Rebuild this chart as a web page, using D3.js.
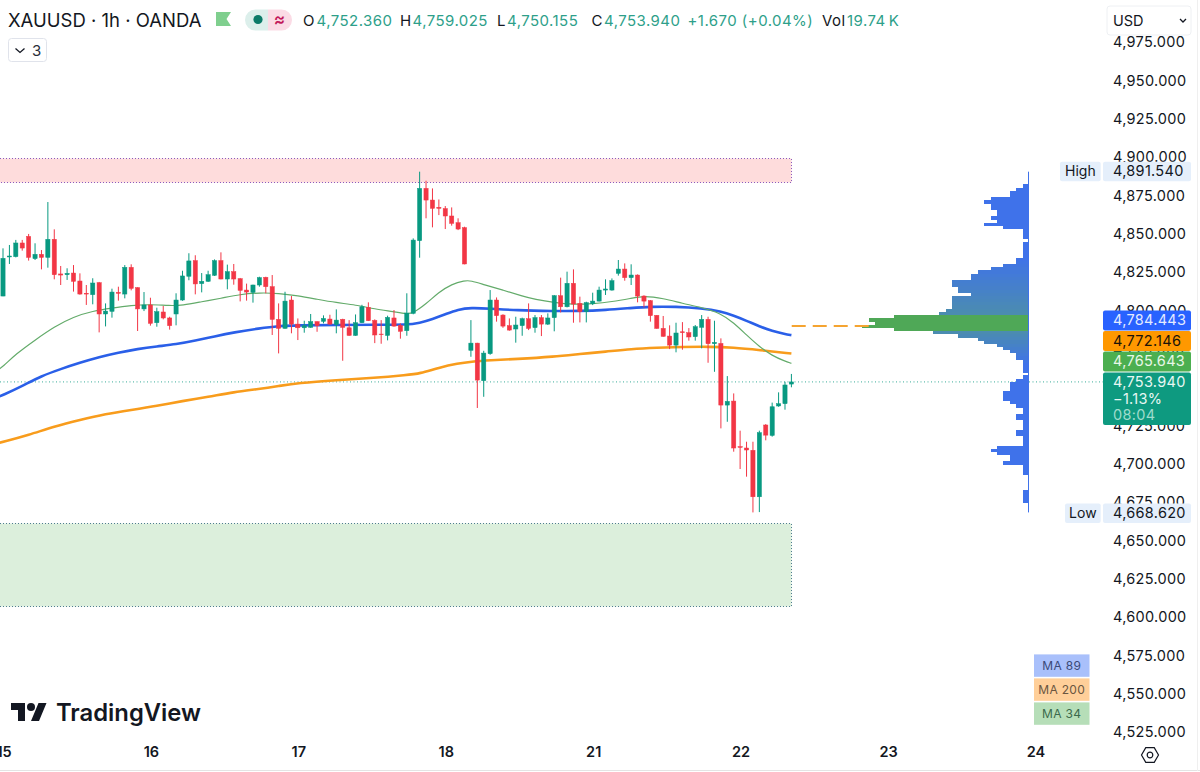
<!DOCTYPE html>
<html>
<head>
<meta charset="utf-8">
<script src="https://cdn.jsdelivr.net/npm/d3@7"></script>
<style>
    html, body { margin: 0; padding: 0; background: #fff; }
    svg { display: block; font-family: Inter, "Noto Sans", sans-serif; }
    .tick text { fill: #131722; }
</style>
</head>
<body>
<svg id="chart" width="1200" height="772"></svg>
<script>
// hourly candles
const opens = [
    4809.1,4834.6,4834.8,4843.7,4848.0,4833.5,4836.3,4834.3,4846.1,4823.5,
    4823.0,4824.1,4818.9,4810.9,4810.0,4817.8,4797.4,4799.1,4811.5,4810.4,
    4827.8,4814.6,4800.7,4803.3,4791.7,4798.7,4794.8,4797.4,4806.5,4822.0,
    4832.2,4817.2,4818.7,4822.6,4832.2,4820.2,4825.0,4820.4,4813.0,4811.5,
    4816.3,4821.3,4815.2,4793.9,4788.0,4806.5,4790.8,4788.4,4788.7,4792.4,
    4792.6,4794.1,4790.4,4793.9,4788.4,4783.4,4791.7,4801.7,4793.2,4784.3,
    4783.4,4794.8,4790.0,4786.5,4797.8,4845.2,4879.3,4871.7,4867.0,4866.1,
    4861.3,4856.9,4853.7,4773.7,4778.4,4753.9,4771.5,4806.5,4796.7,4789.8,
    4787.6,4789.8,4794.3,4788.5,4795.0,4790.8,4795.0,4809.3,4802.1,4817.4,
    4804.3,4798.9,4804.1,4805.8,4813.0,4813.0,4823.9,4826.7,4821.1,4822.8,
    4809.1,4806.1,4796.5,4788.0,4783.0,4777.1,4785.8,4785.2,4782.6,4788.7,
    4793.9,4778.0,4778.2,4738.0,4740.6,4710.9,4710.0,4708.5,4678.2,4725.0,
    4718.2,4737.4,4738.9,4751.7
];
const highs = [
    4840.2,4842.4,4845.7,4845.7,4849.6,4843.5,4839.1,4870.4,4852.6,4828.7,
    4827.2,4829.3,4823.9,4816.3,4820.7,4818.3,4804.3,4813.9,4815.2,4829.3,
    4829.8,4814.8,4811.7,4808.0,4801.5,4802.6,4795.6,4810.9,4825.6,4837.0,
    4835.7,4824.1,4825.6,4833.0,4837.6,4829.6,4830.0,4820.9,4817.2,4816.5,
    4821.7,4821.7,4822.8,4804.3,4811.9,4809.1,4794.5,4793.0,4797.4,4792.6,
    4796.5,4796.9,4800.4,4794.3,4793.4,4797.1,4803.4,4805.0,4793.9,4793.4,
    4796.3,4800.0,4791.3,4810.9,4846.7,4890.2,4884.3,4879.3,4872.1,4867.8,
    4866.9,4859.8,4854.3,4793.4,4778.6,4773.4,4813.0,4808.2,4797.2,4794.5,
    4795.6,4795.0,4804.3,4796.7,4796.7,4797.8,4809.8,4821.1,4825.0,4826.5,
    4808.7,4805.4,4811.3,4815.2,4820.0,4820.6,4832.6,4830.4,4829.8,4823.2,
    4809.6,4806.5,4796.7,4796.1,4790.0,4791.7,4792.1,4788.2,4790.2,4796.7,
    4795.6,4793.0,4781.5,4756.9,4745.6,4721.3,4714.1,4714.1,4721.3,4725.6,
    4739.6,4746.3,4753.2,4758.3
];
const lows = [
    4809.0,4830.0,4834.3,4838.7,4832.2,4832.6,4826.5,4827.6,4820.0,4816.3,
    4819.6,4812.0,4810.0,4803.3,4803.7,4785.4,4789.3,4795.0,4806.1,4807.6,
    4812.8,4786.3,4799.3,4789.8,4789.1,4793.9,4787.2,4790.0,4806.0,4819.4,
    4810.2,4811.5,4818.3,4822.2,4820.0,4813.5,4816.5,4805.6,4806.1,4804.8,
    4815.2,4810.9,4783.7,4771.7,4787.8,4784.8,4780.4,4785.2,4788.4,4785.8,
    4791.3,4790.4,4784.8,4766.9,4783.2,4783.2,4791.5,4792.8,4778.4,4778.0,
    4780.2,4789.1,4781.3,4783.2,4797.2,4834.1,4859.8,4853.9,4861.9,4852.8,
    4855.0,4852.1,4829.8,4769.5,4736.1,4743.4,4770.8,4792.4,4788.4,4786.5,
    4778.7,4783.2,4786.9,4785.2,4783.0,4790.2,4786.1,4798.4,4801.7,4791.7,
    4791.9,4791.9,4803.2,4805.6,4809.8,4812.6,4822.4,4819.1,4816.3,4805.0,
    4801.7,4792.4,4787.8,4782.6,4774.5,4772.4,4774.1,4780.0,4780.0,4775.0,
    4765.6,4759.7,4722.8,4727.1,4707.6,4696.3,4691.3,4668.0,4668.2,4715.0,
    4717.4,4736.9,4735.0,4749.6
];
const closes = [
    4833.7,4835.2,4843.7,4840.4,4834.3,4836.3,4834.3,4846.1,4823.0,4822.8,
    4823.9,4818.7,4810.4,4810.4,4817.6,4797.4,4799.3,4811.7,4810.9,4827.8,
    4814.1,4800.7,4803.3,4791.3,4798.9,4794.8,4789.8,4806.5,4822.2,4832.0,
    4817.0,4818.7,4823.0,4832.2,4820.2,4825.0,4820.2,4812.8,4811.7,4816.3,
    4821.1,4815.2,4793.9,4788.0,4805.8,4790.8,4788.4,4789.8,4792.4,4789.8,
    4794.5,4790.8,4793.4,4788.7,4783.4,4791.7,4802.1,4793.0,4783.7,4783.9,
    4795.2,4789.5,4786.1,4798.0,4845.6,4879.3,4871.7,4866.3,4866.3,4861.3,
    4856.5,4852.8,4830.0,4778.4,4754.3,4771.9,4806.5,4796.3,4789.5,4786.9,
    4790.2,4794.3,4788.0,4795.0,4790.8,4794.8,4809.3,4802.1,4817.4,4803.9,
    4798.9,4804.8,4805.8,4813.0,4813.7,4819.1,4826.7,4821.1,4822.8,4809.1,
    4805.8,4796.3,4788.0,4782.8,4777.1,4785.0,4785.2,4782.4,4789.1,4793.9,
    4778.0,4778.9,4738.0,4740.4,4710.0,4710.4,4708.7,4678.2,4720.0,4718.4,
    4736.9,4738.9,4751.1,4753.1
];

// moving averages, knots as [candle index, price]
const ma34 = [[-1,4760.5],[0,4763.0],[2,4771.3],[5,4780.4],[8,4789.1],[11,4795.6],[14,4799.3],[17,4801.3],[20,4803.0],[23,4803.7],[26,4802.8],[28,4803.0],[31,4805.4],[34,4807.6],[37,4810.2],[40,4811.3],[43,4810.9],[46,4809.3],[49,4807.0],[52,4804.8],[55,4803.3],[58,4800.7],[61,4798.9],[63,4797.4],[64,4798.0],[66,4803.9],[68,4811.6],[70,4816.9],[72,4819.2],[73,4819.2],[75,4816.6],[78,4813.0],[81,4809.1],[83,4806.9],[86,4804.8],[89,4803.5],[92,4804.1],[95,4805.4],[98,4807.6],[100,4809.2],[103,4807.6],[106,4804.3],[109,4801.7],[112,4797.8],[114,4791.7],[116,4783.7],[118,4776.1],[120,4770.2],[122,4766.6],[123,4765.2]];
const ma89 = [[-1,4743.0],[0,4744.5],[3,4750.4],[6,4757.0],[9,4761.5],[12,4765.6],[15,4769.3],[18,4772.2],[21,4774.6],[24,4776.3],[27,4777.6],[30,4780.0],[33,4782.8],[36,4785.4],[40,4788.0],[43,4789.6],[46,4790.0],[52,4790.2],[58,4790.4],[63,4790.4],[65,4791.5],[67,4794.1],[69,4797.2],[71,4800.4],[73,4801.5],[76,4800.9],[80,4799.8],[86,4799.3],[90,4799.3],[94,4800.0],[98,4801.3],[101,4802.2],[105,4802.2],[109,4801.1],[112,4799.1],[114,4796.3],[116,4793.0],[118,4789.3],[120,4786.3],[122,4784.3],[123,4783.6]];
const ma200 = [[-1,4713.0],[0,4714.0],[4,4718.5],[8,4724.0],[12,4728.3],[16,4732.2],[20,4734.8],[24,4737.4],[28,4740.7],[32,4743.3],[36,4746.5],[40,4748.5],[43,4750.4],[46,4752.4],[52,4754.3],[58,4755.7],[63,4757.6],[65,4758.5],[68,4762.4],[71,4765.2],[73,4766.3],[76,4767.2],[80,4768.0],[86,4769.6],[90,4771.3],[94,4772.8],[98,4774.6],[102,4775.4],[106,4775.9],[110,4776.1],[114,4775.6],[118,4773.9],[123,4771.6]];

// volume profile rows from the high down, in row-width units
const profileRows = [
    0,0,0,0,1,2,3,3,6,7, 6,6,5,5,6,5,7,4,1,1,
    1,0,1,1,1,1,1,2,2,4, 6,8,9,9,12,12,11,11,9,12,
    12,12,12,13,14,21,25,24,26,21, 15,11,8,7,5,4,3,2,2,1,
    1,1,1,0,1,2,3,3,3,4, 4,4,3,2,1,1,2,2,1,1,
    1,2,2,1,1,1,5,6,5,3, 3,4,1,1,1,0,0,0,0,0,
    1,1,1,1,0,0,0
];
const profileTop = 4890.2;
const profileBottom = 4668.0;
const profileVah = 4789.6;

const zoneTops = [4898.5, 4660.9];
const zoneBottoms = [4883.0, 4606.5];
const zoneFills = ["#fedcdc", "#dcefdc"];
const zoneEdges = ["#8c5bbd", "#4f7d8f"];

const priceTicks = d3.range(4525, 4976, 25);
const dayIndex = [0, 23, 46, 69, 92, 115, 138, 161];
const dayLabels = ["15", "16", "17", "18", "21", "22", "23", "24"];

const maNames = ["MA 89", "MA 200", "MA 34"];
const maFills = ["#a9c0fb", "#ffcf99", "#b6deb8"];
const maInks = ["#3b4a78", "#6a5640", "#3b6a4c"];

const GREEN = "#089981", RED = "#f23645";
const LABEL_SIZE = 14.5, LABEL_SPACING = 0.3;

const svg = d3.select("#chart");
const W = 1200, H = 772;
const x = d3.scaleLinear().domain([0, 123]).range([3, 791.4]);
const y = d3.scaleLinear().domain([4800, 4525]).range([310, 731.7]);
const lastIdx = opens.length - 1;
const boxEnd = lastIdx + 0.05;

svg.append("rect").attr("width", W).attr("height", H).attr("fill", "#fff");

// zones
zoneTops.forEach((top, i) => {
    const g = svg.append("g");
    const t = Math.floor(y(top)) + 0.5, b = Math.floor(y(zoneBottoms[i])) + 0.5, r = Math.floor(x(boxEnd)) + 0.5;
    g.append("rect").attr("x", 0).attr("width", r).attr("y", t).attr("height", b - t).attr("fill", zoneFills[i]);
    g.append("path").attr("d", d3.line()([[0, t], [r, t], [r, b], [0, b]])).attr("fill", "none")
        .attr("stroke", zoneEdges[i]).attr("stroke-width", 1).attr("stroke-dasharray", "1 2");
});

// last price line
svg.append("line")
    .attr("x1", 0).attr("x2", 1103)
    .attr("y1", y(closes[lastIdx])).attr("y2", y(closes[lastIdx]))
    .attr("stroke", GREEN).attr("stroke-width", 1).attr("stroke-dasharray", "1 2.5").attr("opacity", 0.8);

// volume profile
const rowStep = (profileTop - profileBottom) / profileRows.length;
const volX = d3.scaleLinear().domain([0, 26]).range([1029, 862.3]);
const rowColor = d3.scaleLinear()
    .domain([26, 44, 44.5, 49.5, 50, 60])
    .range(["#3f72ea", "#4b8cb0", "#4fa857", "#4fa857", "#4b8cb0", "#3f72ea"])
    .clamp(true);

svg.append("g").selectAll("rect").data(profileRows).join("rect")
    .attr("x", d => volX(d))
    .attr("width", d => 1029 - volX(d))
    .attr("y", (d, i) => y(profileTop - i * rowStep))
    .attr("height", rowStep * (y(0) - y(1)) + 0.3)
    .attr("fill", (d, i) => rowColor(i))
    .attr("shape-rendering", "crispEdges");

svg.append("line")
    .attr("x1", 1028.5).attr("x2", 1028.5)
    .attr("y1", y(profileTop)).attr("y2", y(profileBottom))
    .attr("stroke", "#3f72ea").attr("stroke-width", 1);

svg.append("line")
    .attr("x1", x(boxEnd)).attr("x2", x(135.2))
    .attr("y1", y(profileVah)).attr("y2", y(profileVah))
    .attr("stroke", "#f5a431").attr("stroke-width", 2).attr("stroke-dasharray", "14 7");

// moving averages
const maLine = d3.line().x(d => x(d[0])).y(d => y(d[1])).curve(d3.curveBasis);
svg.append("path").datum(ma200).attr("d", maLine).attr("fill", "none").attr("stroke", "#f89c1c").attr("stroke-width", 2.6);
svg.append("path").datum(ma89).attr("d", maLine).attr("fill", "none").attr("stroke", "#2a5fe8").attr("stroke-width", 2.6);
svg.append("path").datum(ma34).attr("d", maLine).attr("fill", "none").attr("stroke", "#63ab6a").attr("stroke-width", 1.2);

// candles
const candles = svg.append("g").selectAll("g").data(d3.range(opens.length)).join("g")
    .attr("fill", i => closes[i] >= opens[i] ? GREEN : RED)
    .attr("stroke", i => closes[i] >= opens[i] ? GREEN : RED);
candles.append("line")
    .attr("x1", i => x(i)).attr("x2", i => x(i))
    .attr("y1", i => y(highs[i])).attr("y2", i => y(lows[i]))
    .attr("stroke-width", 1);
candles.append("rect")
    .attr("x", i => x(i) - 2.1).attr("width", 4.2)
    .attr("y", i => y(Math.max(opens[i], closes[i])))
    .attr("height", i => Math.max(0.6, Math.abs(y(opens[i]) - y(closes[i]))))
    .attr("stroke-width", 0.5);

// price axis
const yAxis = d3.axisRight(y).tickValues(priceTicks).tickSize(0).tickPadding(0).tickFormat(d3.format(",.3f"));
svg.append("g").attr("transform", "translate(1113,0.5)").call(yAxis)
    .attr("font-family", null)
    .call(g => g.select(".domain").remove())
    .selectAll("text").attr("font-size", LABEL_SIZE).attr("letter-spacing", LABEL_SPACING);

// time axis
const xAxis = d3.axisBottom(x).tickValues(dayIndex).tickSize(0).tickPadding(0).tickFormat((d, i) => dayLabels[i]);
svg.append("g").attr("transform", "translate(0.5,747)").call(xAxis)
    .attr("font-family", null)
    .call(g => g.select(".domain").remove())
    .selectAll("text").attr("font-size", 14.5).attr("font-weight", 600);

// price labels on the scale
function tag(yTop, h, fill, lines) {
    svg.append("rect").attr("x", 1103).attr("y", yTop).attr("width", 88).attr("height", h).attr("rx", 2).attr("fill", fill);
    lines.forEach(l => {
        svg.append("text").attr("x", 1113).attr("y", yTop + l.dy)
            .attr("font-size", LABEL_SIZE).attr("letter-spacing", LABEL_SPACING).attr("fill", l.ink).text(l.text);
    });
}
const tagTop = y(closes[lastIdx]) - 9.5;
tag(tagTop, 52.7, "#0e9a80", [
    { text: "4,753.940", dy: 14.5, ink: "#e8f7f3" },
    { text: "\u22121.13%", dy: 31.5, ink: "#e8f7f3" },
    { text: "08:04", dy: 48, ink: "#9fdccd" }
]);
tag(tagTop - 20.8, 20, "#4caf50", [{ text: "4,765.643", dy: 14.8, ink: "#e8f7e8" }]);
tag(tagTop - 41.3, 20, "#ff9800", [{ text: "4,772.146", dy: 14.8, ink: "#1c1408" }]);
tag(tagTop - 61.8, 20, "#2962ff", [{ text: "4,784.443", dy: 14.8, ink: "#e4ebff" }]);

function sideTag(price, name, nameX) {
    const top = y(price) - 8;
    svg.append("rect").attr("x", nameX).attr("y", top).attr("width", 1100.7 - nameX).attr("height", 19.5).attr("rx", 2).attr("fill", "#e5effb");
    svg.append("rect").attr("x", 1103).attr("y", top).attr("width", 88).attr("height", 19.5).attr("rx", 2).attr("fill", "#e5effb");
    svg.append("text").attr("x", (nameX + 1100.7) / 2).attr("y", top + 14.8).attr("text-anchor", "middle")
        .attr("font-size", 14).attr("fill", "#131722").text(name);
    svg.append("text").attr("x", 1113).attr("y", top + 14.8).attr("font-size", LABEL_SIZE).attr("letter-spacing", LABEL_SPACING)
        .attr("fill", "#131722").text(d3.format(",.3f")(price));
}
sideTag(4891.54, "High", 1060);
sideTag(4668.62, "Low", 1065);

// MA legend boxes
maNames.forEach((name, i) => {
    const top = 654.4 + i * 24;
    svg.append("rect").attr("x", 1034).attr("y", top).attr("width", 55.5).attr("height", 22.4).attr("fill", maFills[i]);
    svg.append("text").attr("x", 1061.7).attr("y", top + 15.6).attr("text-anchor", "middle")
        .attr("font-size", 12).attr("letter-spacing", 0.3).attr("fill", maInks[i]).text(name);
});

// header
const head = svg.append("g");
head.append("text").attr("x", 8).attr("y", 26.5).attr("font-size", 18.5).attr("fill", "#131722").text("XAUUSD \u00b7 1h \u00b7 OANDA");
head.append("path").attr("d", "M216 12H231L226.5 19L231 26H216Z").attr("fill", "#7fcf8e");

const pill = svg.append("g");
pill.append("path").attr("d", "M268 9.5H255.5A10.5 10.5 0 0 0 255.5 30.5H268Z").attr("fill", "#dcefeb");
pill.append("path").attr("d", "M268 9.5H281.5A10.5 10.5 0 0 1 281.5 30.5H268Z").attr("fill", "#fbdbe5");
pill.append("circle").attr("cx", 258).attr("cy", 19.5).attr("r", 4.6).attr("fill", "#0b7b68");
pill.append("text").attr("x", 279.5).attr("y", 25).attr("text-anchor", "middle").attr("font-size", 17).attr("font-weight", 600).attr("fill", "#c2185b").text("\u2248");

const INK = "#131722", VALUE = "#2e9f8a";
const headerTexts = [
    ["O", 303, INK], ["4,752.360", 316.5, VALUE],
    ["H", 400, INK], ["4,759.025", 412.5, VALUE],
    ["L", 497, INK], ["4,750.155", 507, VALUE],
    ["C", 591.5, INK], ["4,753.940", 604, VALUE],
    ["+1.670 (+0.04%)", 687.5, VALUE],
    ["Vol", 822, INK], ["19.74\u2009K", 847, VALUE]
];
headerTexts.forEach(t => {
    head.append("text").attr("x", t[1]).attr("y", 25.5).attr("font-size", 15).attr("letter-spacing", 0.45).attr("fill", t[2]).text(t[0]);
});

// collapsed indicators button
svg.append("rect").attr("x", 8.5).attr("y", 38.5).attr("width", 38).attr("height", 23).attr("rx", 3)
    .attr("fill", "#fff").attr("stroke", "#e0e3eb");
svg.append("path").attr("d", "M15.5 48.5L20 52.5L24.5 48.5").attr("fill", "none").attr("stroke", INK).attr("stroke-width", 1.3);
svg.append("text").attr("x", 32).attr("y", 55.5).attr("font-size", 15).attr("fill", "#2a2e39").text("3");

// currency select
svg.append("rect").attr("x", 1107).attr("y", 6).attr("width", 84).attr("height", 29).attr("rx", 3)
    .attr("fill", "#fff").attr("stroke", "#eef0f3");
svg.append("text").attr("x", 1113).attr("y", 26).attr("font-size", 14.5).attr("fill", INK).text("USD");
svg.append("path").attr("d", "M1180 19L1183 22L1186 19").attr("fill", "none").attr("stroke", INK).attr("stroke-width", 1.3);

// TradingView mark
const logo = svg.append("g").attr("transform", "translate(11,699)").attr("fill", "#131722");
logo.append("path").attr("d", "M14 22H7V11H0V4h14v18zM28 22h-8l7.5-18h8L28 22z");
logo.append("circle").attr("cx", 20).attr("cy", 8).attr("r", 4);
svg.append("text").attr("x", 56).attr("y", 720.5).attr("font-size", 23.8).attr("font-weight", 600).attr("fill", "#131722").text("TradingView");

// settings icon
const cog = svg.append("g").attr("transform", "translate(1150,755)").attr("fill", "none").attr("stroke", "#131722").attr("stroke-width", 1.2);
cog.append("path").attr("d", d3.line()(d3.range(6).map(k => [8.5 * Math.cos(k * Math.PI / 3), 8.5 * Math.sin(k * Math.PI / 3)])) + "Z");
cog.append("circle").attr("r", 2.8);

// frame edges
svg.append("line").attr("x1", 0).attr("x2", W).attr("y1", 770.5).attr("y2", 770.5).attr("stroke", "#e4e4e4");
svg.append("line").attr("x1", 1197.5).attr("x2", 1197.5).attr("y1", 0).attr("y2", 771).attr("stroke", "#efefef");
</script>
</body>
</html>
